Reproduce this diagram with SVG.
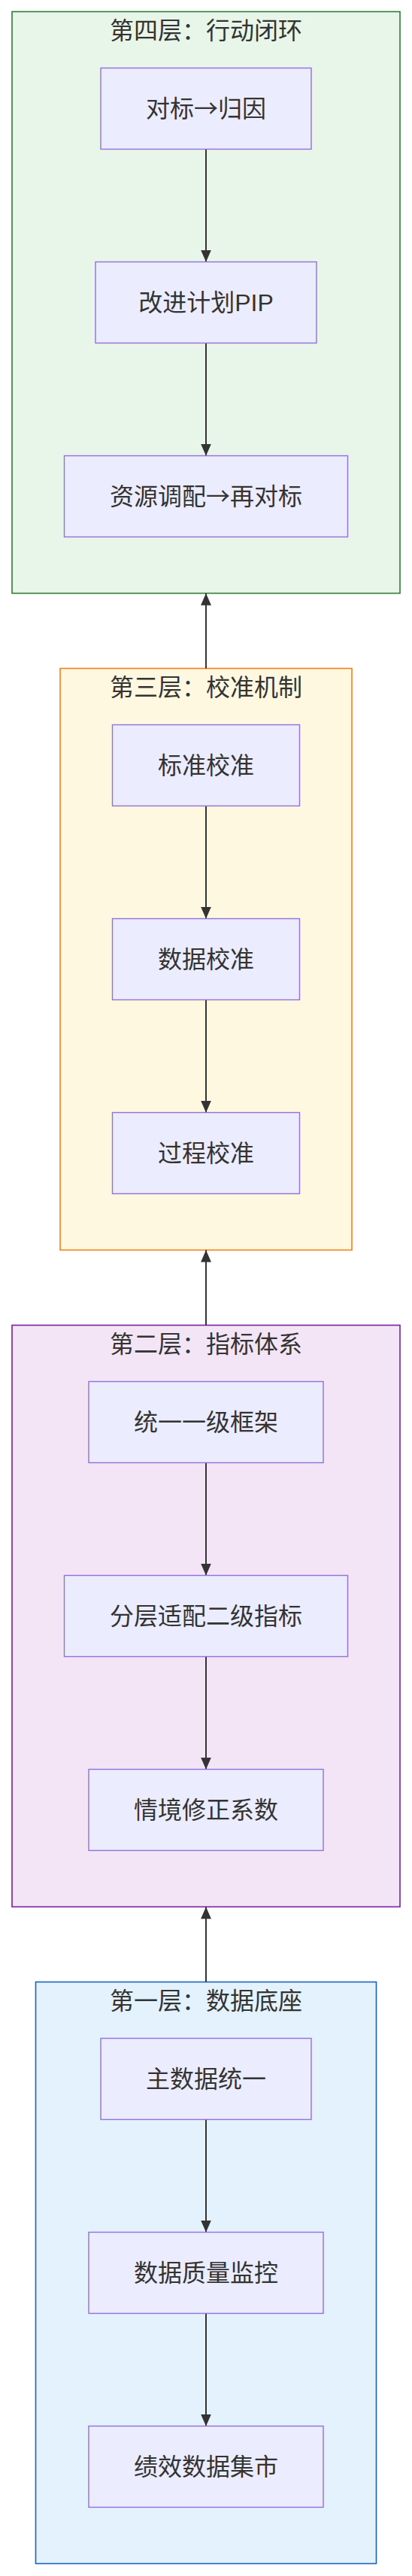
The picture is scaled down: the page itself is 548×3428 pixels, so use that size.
<svg xmlns="http://www.w3.org/2000/svg" width="548" height="3428" viewBox="0 0 548 3428">
<style>
  .cl { stroke-width: 1.6; }
  .c4 { fill: #e8f5e9; stroke: #2e7d32; }
  .c3 { fill: #fff8e1; stroke: #f57f17; }
  .c2 { fill: #f3e5f5; stroke: #7b1fa2; }
  .c1 { fill: #e3f2fd; stroke: #1565c0; }
  .nd { fill: #ECECFF; stroke: #9370DB; stroke-width: 1.4; }
  text { font-family: "Liberation Sans", "Noto Sans CJK SC", sans-serif; font-size: 32px; fill: #333333; text-anchor: middle; }
  .ar { font-family: "Noto Sans CJK SC", "DejaVu Sans", sans-serif; }
  .edge { stroke: #333333; stroke-width: 2; fill: none; marker-end: url(#arr); }
</style>
<defs>
  <marker id="arr" viewBox="0 0 16 14" refX="16" refY="7" markerWidth="16" markerHeight="14" markerUnits="userSpaceOnUse" orient="auto">
    <path d="M0,0 L16,7 L0,14 z" fill="#333333"/>
  </marker>
</defs>

<g id="layer4">
  <rect class="cl c4" x="16" y="15.5" width="516" height="774"/>
  <text x="274" y="51.5">第四层：行动闭环</text>
</g>
<g id="layer3">
  <rect class="cl c3" x="80" y="889.5" width="388" height="774"/>
  <text x="274" y="925.5">第三层：校准机制</text>
</g>
<g id="layer2">
  <rect class="cl c2" x="16" y="1763.5" width="516" height="774"/>
  <text x="274" y="1799.5">第二层：指标体系</text>
</g>
<g id="layer1">
  <rect class="cl c1" x="47.5" y="2637.5" width="453" height="774"/>
  <text x="274" y="2673.5">第一层：数据底座</text>
</g>

<g id="connectors">
  <line class="edge" x1="274" y1="198.5" x2="274" y2="348.5"/>
  <line class="edge" x1="274" y1="456.5" x2="274" y2="606.5"/>
  <line class="edge" x1="274" y1="1072.5" x2="274" y2="1222.5"/>
  <line class="edge" x1="274" y1="1330.5" x2="274" y2="1480.5"/>
  <line class="edge" x1="274" y1="1946.5" x2="274" y2="2096.5"/>
  <line class="edge" x1="274" y1="2204.5" x2="274" y2="2354.5"/>
  <line class="edge" x1="274" y1="2820.5" x2="274" y2="2970.5"/>
  <line class="edge" x1="274" y1="3078.5" x2="274" y2="3228.5"/>
  <line class="edge" x1="274" y1="889.5" x2="274" y2="789.5"/>
  <line class="edge" x1="274" y1="1763.5" x2="274" y2="1663.5"/>
  <line class="edge" x1="274" y1="2637.5" x2="274" y2="2537.5"/>
</g>

<g id="n_duibiao">
  <rect class="nd" x="134" y="90.5" width="280" height="108"/>
  <text x="274" y="155.5">对标<tspan class="ar">→</tspan>归因</text>
</g>
<g id="n_pip">
  <rect class="nd" x="127" y="348.5" width="294" height="108"/>
  <text x="274" y="413.5">改进计划PIP</text>
</g>
<g id="n_ziyuan">
  <rect class="nd" x="85.5" y="606.5" width="377" height="108"/>
  <text x="274" y="671.5">资源调配<tspan class="ar">→</tspan>再对标</text>
</g>

<g id="n_biaozhun">
  <rect class="nd" x="149.5" y="964.5" width="249" height="108"/>
  <text x="274" y="1029.5">标准校准</text>
</g>
<g id="n_shuju">
  <rect class="nd" x="149.5" y="1222.5" width="249" height="108"/>
  <text x="274" y="1287.5">数据校准</text>
</g>
<g id="n_guocheng">
  <rect class="nd" x="149.5" y="1480.5" width="249" height="108"/>
  <text x="274" y="1545.5">过程校准</text>
</g>

<g id="n_tongyi">
  <rect class="nd" x="118" y="1838.5" width="312" height="108"/>
  <text x="274" y="1903.5">统一一级框架</text>
</g>
<g id="n_fenceng">
  <rect class="nd" x="85.5" y="2096.5" width="377" height="108"/>
  <text x="274" y="2161.5">分层适配二级指标</text>
</g>
<g id="n_qingjing">
  <rect class="nd" x="118" y="2354.5" width="312" height="108"/>
  <text x="274" y="2419.5">情境修正系数</text>
</g>

<g id="n_zhushuju">
  <rect class="nd" x="134" y="2712.5" width="280" height="108"/>
  <text x="274" y="2777.5">主数据统一</text>
</g>
<g id="n_zhiliang">
  <rect class="nd" x="118" y="2970.5" width="312" height="108"/>
  <text x="274" y="3035.5">数据质量监控</text>
</g>
<g id="n_jishi">
  <rect class="nd" x="118" y="3228.5" width="312" height="108"/>
  <text x="274" y="3293.5">绩效数据集市</text>
</g>
</svg>
